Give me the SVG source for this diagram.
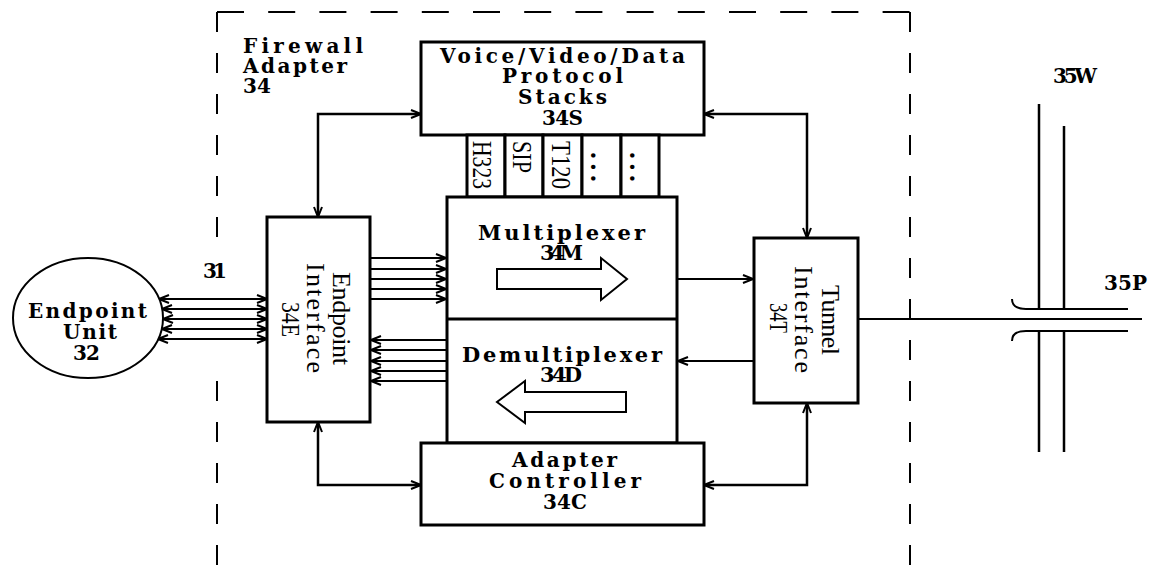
<svg xmlns="http://www.w3.org/2000/svg" width="1149" height="565" viewBox="0 0 1149 565">
<style>
  .box{fill:#fff;stroke:#000;stroke-width:3}
  .ln{fill:none;stroke:#000;stroke-width:2.5}
  .thin{fill:none;stroke:#000;stroke-width:2}
  .b{font-family:"DejaVu Serif","Liberation Serif",serif;font-weight:bold;font-size:20px;fill:#000}
  .bl{font-size:21px}
  .r{font-family:"Liberation Serif","DejaVu Serif",serif;font-size:26px;fill:#000}
  .dash{fill:none;stroke:#000;stroke-width:2}
</style>
<defs>
  <marker id="ah" viewBox="0 0 12 10" refX="11" refY="5" markerWidth="12" markerHeight="10" markerUnits="userSpaceOnUse" orient="auto-start-reverse">
    <path d="M1,1 L11,5 L1,9" fill="none" stroke="#000" stroke-width="2"/>
  </marker>
</defs>
<rect width="1149" height="565" fill="#fff"/>

<g id="firewall-adapter">
  <path class="dash" d="M217,12 H910" stroke-dasharray="27 24.2"/>
  <path class="dash" d="M217,12 V238" stroke-dasharray="20 21"/>
  <path class="dash" d="M217,381 V565" stroke-dasharray="20 21"/>
  <path class="dash" d="M910,12 V565" stroke-dasharray="20 21"/>
  <text class="b" x="243" y="53" textLength="120" lengthAdjust="spacing">Firewall</text>
  <text class="b" x="243" y="73" textLength="104" lengthAdjust="spacing">Adapter</text>
  <text class="b" x="243" y="93" textLength="28" lengthAdjust="spacing">34</text>
</g>

<g id="connectors">
  <path class="ln" d="M318,217 V114 H421" marker-start="url(#ah)" marker-end="url(#ah)"/>
  <path class="ln" d="M704,114 H807 V238" marker-start="url(#ah)" marker-end="url(#ah)"/>
  <path class="ln" d="M318,422 V485 H421" marker-start="url(#ah)" marker-end="url(#ah)"/>
  <path class="ln" d="M704,485 H807 V403" marker-start="url(#ah)" marker-end="url(#ah)"/>
  <g id="link-31">
    <path class="thin" d="M159,299 H267" marker-start="url(#ah)" marker-end="url(#ah)"/>
    <path class="thin" d="M162,309 H267" marker-start="url(#ah)" marker-end="url(#ah)"/>
    <path class="thin" d="M163,319 H267" marker-start="url(#ah)" marker-end="url(#ah)"/>
    <path class="thin" d="M162,329 H267" marker-start="url(#ah)" marker-end="url(#ah)"/>
    <path class="thin" d="M158,339 H267" marker-start="url(#ah)" marker-end="url(#ah)"/>
  </g>
  <path class="thin" d="M370,258 H446" marker-end="url(#ah)"/>
  <path class="thin" d="M370,269 H446" marker-end="url(#ah)"/>
  <path class="thin" d="M370,279 H446" marker-end="url(#ah)"/>
  <path class="thin" d="M370,289 H446" marker-end="url(#ah)"/>
  <path class="thin" d="M370,299 H446" marker-end="url(#ah)"/>
  <path class="thin" d="M447,340 H371" marker-end="url(#ah)"/>
  <path class="thin" d="M447,350 H371" marker-end="url(#ah)"/>
  <path class="thin" d="M447,361 H371" marker-end="url(#ah)"/>
  <path class="thin" d="M447,371 H371" marker-end="url(#ah)"/>
  <path class="thin" d="M447,381 H371" marker-end="url(#ah)"/>
  <path class="thin" d="M677,279 H753" marker-end="url(#ah)"/>
  <path class="thin" d="M754,361 H678" marker-end="url(#ah)"/>
  <path class="thin" d="M858,319 H1142"/>
  <text class="b" x="203" y="278" textLength="24" lengthAdjust="spacing">31</text>
</g>

<g id="endpoint-unit">
  <ellipse cx="88" cy="318" rx="75" ry="60" fill="#fff" stroke="#000" stroke-width="2"/>
  <text class="b" x="28" y="318" textLength="119" lengthAdjust="spacing">Endpoint</text>
  <text class="b" x="63" y="339" textLength="54" lengthAdjust="spacing">Unit</text>
  <text class="b" x="73" y="360" textLength="27" lengthAdjust="spacing">32</text>
</g>

<g id="endpoint-interface">
  <rect class="box" x="267" y="217" width="103" height="205"/>
  <text class="r" transform="translate(333,318.5) rotate(90)" text-anchor="middle" textLength="93" lengthAdjust="spacing">Endpoint</text>
  <text class="r" transform="translate(307,318) rotate(90)" text-anchor="middle" textLength="110" lengthAdjust="spacing">Interface</text>
  <text class="r" transform="translate(282,319.5) rotate(90)" text-anchor="middle" textLength="35" lengthAdjust="spacingAndGlyphs">34E</text>
</g>

<g id="protocol-stacks">
  <rect class="box" x="421" y="42" width="283" height="93"/>
  <text class="b" x="440" y="63" textLength="245" lengthAdjust="spacing">Voice/Video/Data</text>
  <text class="b" x="502" y="83" textLength="121" lengthAdjust="spacing">Protocol</text>
  <text class="b" x="518" y="104" textLength="89" lengthAdjust="spacing">Stacks</text>
  <text class="b" x="542" y="125" textLength="41" lengthAdjust="spacing">34S</text>
</g>

<g id="stack-slots">
  <rect class="box" x="467" y="135" width="38" height="62"/>
  <rect class="box" x="505" y="135" width="38" height="62"/>
  <rect class="box" x="543" y="135" width="39" height="62"/>
  <rect class="box" x="582" y="135" width="39" height="62"/>
  <rect class="box" x="621" y="135" width="38" height="62"/>
  <text class="r" style="font-size:27px" transform="translate(473,165) rotate(90)" text-anchor="middle" textLength="48" lengthAdjust="spacingAndGlyphs">H323</text>
  <text class="r" style="font-size:27px" transform="translate(513,157) rotate(90)" text-anchor="middle" textLength="32" lengthAdjust="spacingAndGlyphs">SIP</text>
  <text class="r" style="font-size:27px" transform="translate(552,165) rotate(90)" text-anchor="middle" textLength="48" lengthAdjust="spacingAndGlyphs">T120</text>
  <text class="r" style="font-size:27px;font-weight:bold" transform="translate(590.5,167) rotate(90)" x="-14.9 -3.4 8.1">...</text>
  <text class="r" style="font-size:27px;font-weight:bold" transform="translate(629.5,167) rotate(90)" x="-14.9 -3.4 8.1">...</text>
</g>

<g id="multiplexer">
  <rect class="box" x="447" y="197" width="230" height="246"/>
  <path class="box" d="M447,319 H677"/>
  <text class="b bl" x="478" y="240" textLength="167" lengthAdjust="spacing">Multiplexer</text>
  <text class="b bl" x="540" y="260" textLength="43" lengthAdjust="spacing">34M</text>
  <polygon points="497,269 601,269 601,258 627,279 601,300 601,289 497,289" fill="#fff" stroke="#000" stroke-width="2"/>
</g>

<g id="demultiplexer">
  <text class="b bl" x="462" y="362" textLength="200" lengthAdjust="spacing">Demultiplexer</text>
  <text class="b bl" x="540" y="382" textLength="42" lengthAdjust="spacing">34D</text>
  <polygon points="626,392 525,392 525,381 497,402 525,423 525,412 626,412" fill="#fff" stroke="#000" stroke-width="2"/>
</g>

<g id="adapter-controller">
  <rect class="box" x="421" y="443" width="283" height="82"/>
  <text class="b" x="512" y="467" textLength="105" lengthAdjust="spacing">Adapter</text>
  <text class="b" x="489" y="488" textLength="152" lengthAdjust="spacing">Controller</text>
  <text class="b" x="543" y="509" textLength="44" lengthAdjust="spacing">34C</text>
</g>

<g id="tunnel-interface">
  <rect class="box" x="754" y="238" width="104" height="165"/>
  <text class="r" transform="translate(822,320) rotate(90)" text-anchor="middle" textLength="70" lengthAdjust="spacing">Tunnel</text>
  <text class="r" transform="translate(795,319.5) rotate(90)" text-anchor="middle" textLength="107" lengthAdjust="spacing">Interface</text>
  <text class="r" transform="translate(770,318) rotate(90)" text-anchor="middle" textLength="30" lengthAdjust="spacingAndGlyphs">34T</text>
</g>

<g id="wall-35W">
  <path class="ln" d="M1039,104 V309 M1039,331 V452 M1064,126 V309 M1064,331 V452"/>
  <text class="b" x="1053" y="83" textLength="44" lengthAdjust="spacing">35W</text>
</g>

<g id="port-35P">
  <path class="thin" d="M1012,299 C1012,306 1017,309 1026,309 H1128"/>
  <path class="thin" d="M1012,341 C1012,334 1017,331 1026,331 H1128"/>
  <text class="b" x="1104" y="290" textLength="43" lengthAdjust="spacing">35P</text>
</g>
</svg>
